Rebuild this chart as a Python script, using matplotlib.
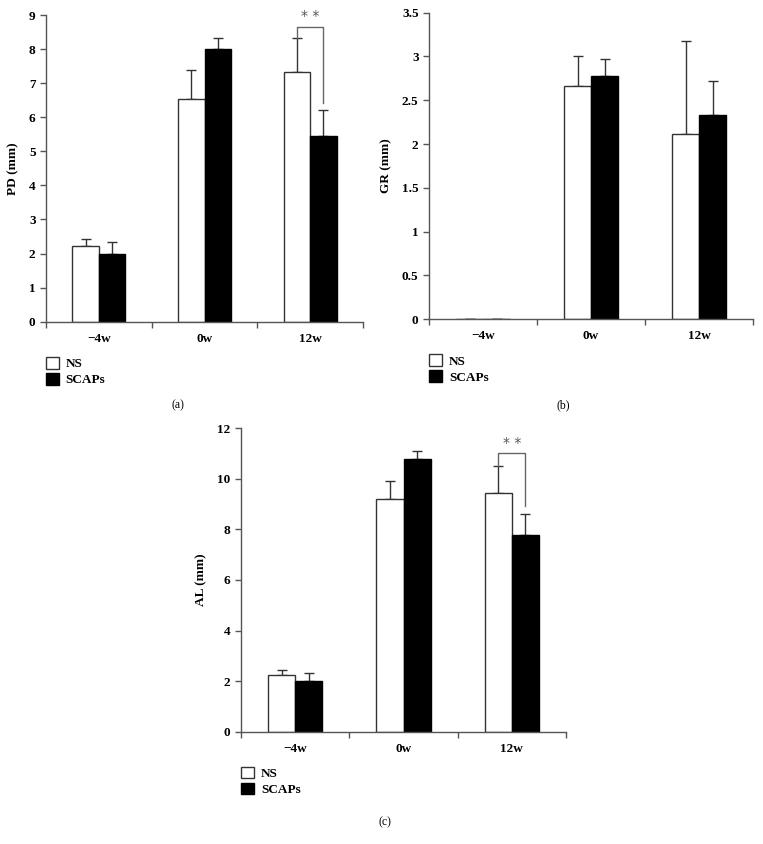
import matplotlib
matplotlib.use("Agg")
import matplotlib.pyplot as plt
from matplotlib.patches import Patch
import numpy as np

categories = ["\u22124w", "0w", "12w"]

pd_ns = [2.22, 6.55, 7.33]
pd_ns_err = [0.20, 0.84, 1.00]
pd_scaps = [2.00, 8.00, 5.45]
pd_scaps_err = [0.33, 0.33, 0.76]

gr_ns = [0.0, 2.66, 2.11]
gr_ns_err = [0.0, 0.34, 1.07]
gr_scaps = [0.0, 2.78, 2.33]
gr_scaps_err = [0.0, 0.19, 0.39]

al_ns = [2.23, 9.22, 9.43]
al_ns_err = [0.20, 0.68, 1.07]
al_scaps = [2.00, 10.77, 7.78]
al_scaps_err = [0.33, 0.32, 0.82]

pd_ticks = [0, 1, 2, 3, 4, 5, 6, 7, 8, 9]
gr_ticks = [0, 0.5, 1, 1.5, 2, 2.5, 3, 3.5]
gr_ticklabels = ["0", "0.5", "1", "1.5", "2", "2.5", "3", "3.5"]
al_ticks = [0, 2, 4, 6, 8, 10, 12]

# significance brackets: (category index, bracket top, right drop end)
pd_sig = (2, 8.66, 6.41)
al_sig = (2, 11.01, 8.94)

plt.rcParams["font.family"] = ["Liberation Serif", "DejaVu Serif"]
plt.rcParams["font.weight"] = "bold"

fig = plt.figure(figsize=(7.63, 8.44), dpi=100)
spine_c = "#555555"
FS = 9.5


def draw(rect, ns, ns_err, sc, sc_err, ticks, ylabel, panel, plabel_xy, ticklabels=None, sig=None, legy=-0.115):
    ax = fig.add_axes(rect)
    n = len(categories)
    x = np.arange(n) + 0.5
    w = 0.25
    ax.bar(x - w / 2, ns, w, color="white", edgecolor="#333333", linewidth=1.0, zorder=2)
    ax.bar(x + w / 2, sc, w, color="black", edgecolor="black", linewidth=1.0, zorder=2)
    ax.errorbar(x - w / 2, ns, yerr=[np.zeros(n), ns_err], fmt="none", ecolor="#333333",
                elinewidth=1.0, capsize=3.8, capthick=1.0, zorder=1)
    ax.errorbar(x + w / 2, sc, yerr=[np.zeros(n), sc_err], fmt="none", ecolor="#333333",
                elinewidth=1.0, capsize=3.8, capthick=1.0, zorder=1)
    ax.set_xlim(0, n)
    ax.set_ylim(ticks[0], ticks[-1])
    ax.set_xticks(np.arange(n + 1))
    ax.set_xticklabels([])
    ax.set_xticks(x, minor=True)
    ax.set_xticklabels(categories, minor=True, fontsize=FS, fontweight="bold")
    ax.tick_params(axis="x", which="minor", length=0, pad=8)
    ax.tick_params(axis="x", which="major", length=4, color=spine_c, width=1)
    ax.set_yticks(ticks)
    if ticklabels is not None:
        ax.set_yticklabels(ticklabels)
    ax.tick_params(axis="y", length=4, color=spine_c, width=1, labelsize=FS)
    for lab in ax.get_yticklabels():
        lab.set_fontweight("bold")
    ax.spines["top"].set_visible(False)
    ax.spines["right"].set_visible(False)
    for s in ("left", "bottom"):
        ax.spines[s].set_color(spine_c)
        ax.spines[s].set_linewidth(1.0)
    ax.set_ylabel(ylabel, fontsize=FS, fontweight="bold", labelpad=7)
    if sig is not None:
        i, top, drop = sig
        xl = x[i] - w / 2
        xr = x[i] + w / 2
        ax.plot([xl, xl, xr, xr], [ns[i] + ns_err[i], top, top, drop],
                color="#666666", linewidth=1.0, clip_on=False)
        ax.text((xl + xr) / 2, top + (ticks[-1] - ticks[0]) * 0.035, "* *", ha="center", va="center",
                fontsize=10, color="#555555", fontweight="normal", family="DejaVu Sans")
    handles = [Patch(facecolor="white", edgecolor="#333333", linewidth=1.0),
               Patch(facecolor="black", edgecolor="black")]
    ax.legend(handles, ["NS", "SCAPs"], loc="upper left", bbox_to_anchor=(0.0, legy),
              frameon=False, borderaxespad=0, borderpad=0, handlelength=1.0, handleheight=1.0,
              handletextpad=0.5, labelspacing=0.2,
              prop={"size": FS, "weight": "bold", "family": ["Liberation Serif"]})
    fig.text(plabel_xy[0] / 763, 1 - plabel_xy[1] / 844, panel, ha="center", va="center",
             fontsize=8.5, fontweight="normal")
    return ax


draw([0.0603, 0.6188, 0.4155, 0.3634], pd_ns, pd_ns_err, pd_scaps, pd_scaps_err,
     pd_ticks, "PD (mm)", "(a)", (178, 405), sig=pd_sig)
draw([0.5623, 0.6220, 0.4246, 0.3629], gr_ns, gr_ns_err, gr_scaps, gr_scaps_err,
     gr_ticks, "GR (mm)", "(b)", (563, 405), ticklabels=gr_ticklabels)
draw([0.3159, 0.1331, 0.4260, 0.3595], al_ns, al_ns_err, al_scaps, al_scaps_err,
     al_ticks, "AL (mm)", "(c)", (385, 822), sig=al_sig)

fig.savefig("out.png", dpi=100)
